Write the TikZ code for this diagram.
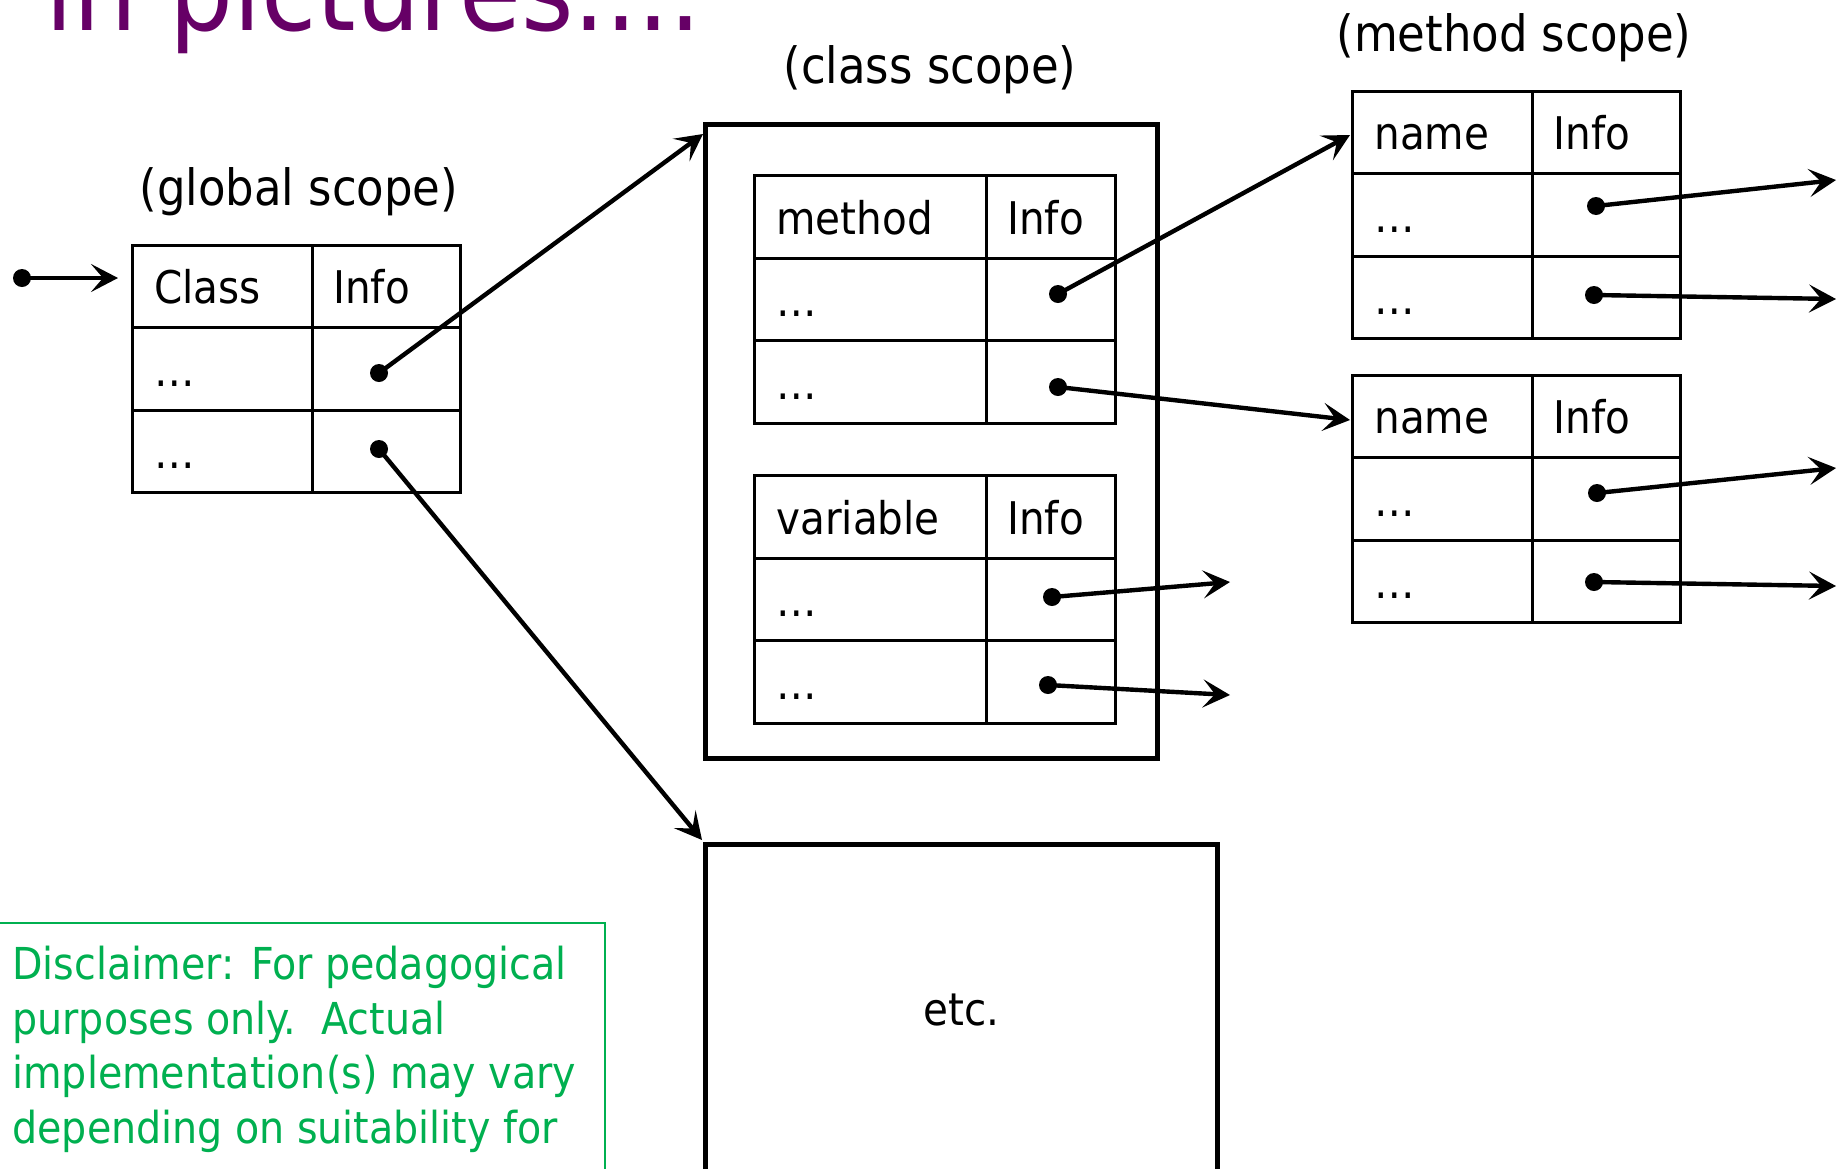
\documentclass[tikz,border=0pt]{standalone}
\usepackage{fontspec}
\setmainfont{DejaVu Sans Condensed}
\usetikzlibrary{arrows.meta}
\definecolor{ttlpurple}{HTML}{660066}
\definecolor{discgreen}{HTML}{00B050}
\newcommand\symtab[6]{%
 \node[cell, minimum width={#4*0.5pt}] (#1-h1) at (#2,#3) {};
 \node[cell, minimum width={#5*0.5pt}] (#1-h2) at ({#2+#4},#3) {};
 \node[cell, minimum width={#4*0.5pt}] (#1-a1) at (#2,{#3+82.5}) {};
 \node[cell, minimum width={#5*0.5pt}] (#1-a2) at ({#2+#4},{#3+82.5}) {};
 \node[cell, minimum width={#4*0.5pt}] (#1-b1) at (#2,{#3+165}) {};
 \node[cell, minimum width={#5*0.5pt}] (#1-b2) at ({#2+#4},{#3+165}) {};
 \node[tbltxt] (#1-th1) at ({#2+23},{#3+60}) {#6};
 \node[tbltxt] (#1-th2) at ({#2+#4+22},{#3+60}) {Info};
 \node[tbltxt] (#1-ta) at ({#2+23},{#3+142.5}) {…};
 \node[tbltxt] (#1-tb) at ({#2+23},{#3+225}) {…};
}
\begin{document}
\begin{tikzpicture}[x=0.5pt,y=-0.5pt,
  cell/.style={draw, line width=1.5pt, rectangle, inner sep=0pt, anchor=north west, minimum height=41.25pt},
  tbltxt/.style={anchor=base west, inner sep=0pt, font=\fontsize{22.5}{27}\selectfont},
  lbl/.style={inner sep=0pt, font=\fontsize{25}{30}\selectfont},
  bigbox/.style={draw, line width=2.4pt, rectangle, inner sep=0pt, anchor=north west},
  dot/.style={circle, fill, inner sep=0pt, minimum size=9pt},
  conn/.style={line width=2.2pt, -{Stealth[length=13.5pt,width=14pt,inset=6pt]}},
  disctxt/.style={anchor=base west, inner sep=0pt, text=discgreen, font=\fontsize{22}{26}\selectfont}]
\useasboundingbox (0,0) rectangle (1845,1168);
\fill[white] (0,0) rectangle (1845,1168);

% title
\node[anchor=base west, inner sep=0pt, text=ttlpurple, font=\fontsize{56}{67}\selectfont] (title) at (45,30) {in pictures....};

% labels
\node[lbl] (lglobal) at (299,192) {(global scope)};
\node[lbl] (lclass) at (930,70) {(class scope)};
\node[lbl] (lmethod) at (1514,38) {(method scope)};

% global table
\symtab{g}{131}{243.5}{180}{148}{Class}
% class scope box
\node[bigbox, minimum width=226pt, minimum height=317pt] (cls) at (703,122) {};
\symtab{m}{753}{174}{232}{129}{method}
\symtab{v}{753}{474}{232}{129}{variable}
% method scope tables
\symtab{s1}{1351}{89.5}{180}{148}{name}
\symtab{s2}{1351}{373.5}{180}{148}{name}
% etc box
\node[bigbox, minimum width=256pt, minimum height=166pt, font=\fontsize{22.5}{27}\selectfont] (etc) at (703,842) {etc.};

% disclaimer
\node[draw=discgreen, line width=0.8pt, rectangle, inner sep=0pt, anchor=north west, minimum width=304pt, minimum height=140pt] (disc) at (-4,922) {};
\node[disctxt] (d1) at (12,979) {Disclaimer: For pedagogical};
\node[disctxt] (d2) at (12,1034) {purposes only.\ \ Actual};
\node[disctxt] (d3) at (12,1088) {implementation(s) may vary};
\node[disctxt] (d4) at (12,1143) {depending on suitability for};

% dots
\node[dot] (start) at (22,278) {};
\node[dot] (g-da) at (379,373) {};
\node[dot] (g-db) at (379,449) {};
\node[dot] (m-da) at (1058,294) {};
\node[dot] (m-db) at (1058,387) {};
\node[dot] (v-da) at (1052,597) {};
\node[dot] (v-db) at (1048,685) {};
\node[dot] (s1-da) at (1596,206) {};
\node[dot] (s1-db) at (1594,295) {};
\node[dot] (s2-da) at (1597,493) {};
\node[dot] (s2-db) at (1594,582) {};

% free ends
\coordinate (gin) at (118,278);
\coordinate (clsin) at (703,134);
\coordinate (etcin) at (702,840);
\coordinate (s1in) at (1350,135);
\coordinate (s2in) at (1350,420);
\coordinate (vo1) at (1230,582);
\coordinate (vo2) at (1230,695);
\coordinate (s1o1) at (1836,180);
\coordinate (s1o2) at (1836,299);
\coordinate (s2o1) at (1836,468);
\coordinate (s2o2) at (1836,586);

% connectors
\draw[conn] (start.center) -- (gin);
\draw[conn] (g-da.center) -- (clsin);
\draw[conn] (g-db.center) -- (etcin);
\draw[conn] (m-da.center) -- (s1in);
\draw[conn] (m-db.center) -- (s2in);
\draw[conn] (v-da.center) -- (vo1);
\draw[conn] (v-db.center) -- (vo2);
\draw[conn] (s1-da.center) -- (s1o1);
\draw[conn] (s1-db.center) -- (s1o2);
\draw[conn] (s2-da.center) -- (s2o1);
\draw[conn] (s2-db.center) -- (s2o2);
\end{tikzpicture}
\end{document}
